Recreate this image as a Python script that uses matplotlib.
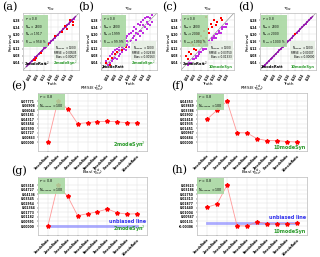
import numpy as np
import matplotlib.pyplot as plt

# ---- scatter panels: truth vs retrieval ----
a_pur_t = [0.03, 0.035, 0.04, 0.05, 0.06, 0.065, 0.07, 0.08, 0.09, 0.095, 0.10, 0.11, 0.12, 0.125, 0.13, 0.14,
           0.15, 0.155, 0.16, 0.17, 0.18, 0.185, 0.19, 0.20, 0.21, 0.215, 0.22, 0.23, 0.24, 0.245, 0.25, 0.26,
           0.27, 0.275, 0.28, 0.29]
a_pur_r = [0.031, 0.034, 0.041, 0.049, 0.061, 0.064, 0.071, 0.079, 0.091, 0.094, 0.101, 0.109, 0.121, 0.124, 0.131, 0.139,
           0.151, 0.154, 0.161, 0.169, 0.181, 0.184, 0.191, 0.199, 0.211, 0.214, 0.221, 0.229, 0.241, 0.244, 0.251, 0.259,
           0.271, 0.274, 0.281, 0.289]
a_red_t = [0.06, 0.07, 0.075, 0.10, 0.14, 0.18, 0.22, 0.24, 0.25, 0.27, 0.285, 0.285]
a_red_r = [0.055, 0.058, 0.07, 0.098, 0.145, 0.19, 0.215, 0.245, 0.232, 0.28, 0.27, 0.255]

b_pur_t = [0.03, 0.04, 0.05, 0.06, 0.07, 0.07, 0.08, 0.08, 0.09, 0.09, 0.10, 0.10, 0.11, 0.11, 0.12, 0.12, 0.13, 0.13,
           0.14, 0.14, 0.15, 0.15, 0.16, 0.16, 0.17, 0.17, 0.18, 0.18, 0.19, 0.19, 0.20, 0.20, 0.21, 0.21, 0.22, 0.22,
           0.23, 0.23, 0.24, 0.24, 0.25, 0.25, 0.26, 0.26, 0.27, 0.27, 0.28, 0.28, 0.29, 0.29, 0.06, 0.12, 0.18, 0.24,
           0.10, 0.15, 0.20, 0.22, 0.26, 0.05]
b_pur_r = [0.05, 0.03, 0.08, 0.05, 0.10, 0.06, 0.11, 0.07, 0.06, 0.12, 0.13, 0.08, 0.09, 0.14, 0.16, 0.10, 0.12, 0.17,
           0.11, 0.18, 0.14, 0.19, 0.13, 0.20, 0.16, 0.21, 0.15, 0.22, 0.19, 0.24, 0.17, 0.23, 0.20, 0.26, 0.19, 0.25,
           0.22, 0.27, 0.21, 0.28, 0.24, 0.29, 0.23, 0.27, 0.26, 0.30, 0.25, 0.29, 0.27, 0.31, 0.09, 0.13, 0.18, 0.25,
           0.11, 0.16, 0.21, 0.22, 0.30, 0.04]
b_red_t = [0.03, 0.04, 0.05, 0.06, 0.08, 0.12, 0.14, 0.09]
b_red_r = [0.04, 0.06, 0.03, 0.07, 0.09, 0.11, 0.13, 0.10]

c_pur_t = [0.04, 0.05, 0.06, 0.07, 0.08, 0.09, 0.10, 0.11, 0.12, 0.13, 0.14, 0.15, 0.16, 0.17, 0.18, 0.19, 0.20, 0.21,
           0.22, 0.23, 0.24, 0.25, 0.26, 0.27, 0.28, 0.13, 0.15, 0.17, 0.19, 0.21, 0.23, 0.11, 0.09, 0.25, 0.27, 0.20]
c_pur_r = [0.03, 0.04, 0.04, 0.06, 0.06, 0.08, 0.08, 0.09, 0.10, 0.11, 0.12, 0.12, 0.14, 0.15, 0.15, 0.17, 0.18, 0.18,
           0.20, 0.21, 0.21, 0.23, 0.24, 0.24, 0.26, 0.12, 0.14, 0.16, 0.18, 0.20, 0.22, 0.10, 0.07, 0.24, 0.26, 0.19]
c_red_t = [0.03, 0.04, 0.05, 0.06, 0.07, 0.08, 0.09, 0.10, 0.11, 0.12, 0.13, 0.14, 0.15, 0.16, 0.17, 0.18, 0.19, 0.20,
           0.21, 0.22, 0.24, 0.15, 0.10, 0.06, 0.12, 0.25]
c_red_r = [0.08, 0.06, 0.10, 0.09, 0.14, 0.12, 0.11, 0.16, 0.14, 0.19, 0.17, 0.22, 0.18, 0.23, 0.21, 0.26, 0.24, 0.28,
           0.25, 0.27, 0.29, 0.30, 0.20, 0.15, 0.15, 0.28]

d_pur_t = [0.02, 0.03, 0.04, 0.05, 0.06, 0.07, 0.08, 0.09, 0.10, 0.11, 0.12, 0.13, 0.14, 0.15, 0.16, 0.17, 0.18, 0.19,
           0.20, 0.21, 0.22, 0.23, 0.24, 0.25, 0.26, 0.27, 0.28, 0.29]
d_pur_r = [0.02, 0.03, 0.04, 0.05, 0.06, 0.07, 0.08, 0.09, 0.10, 0.11, 0.12, 0.13, 0.14, 0.15, 0.16, 0.17, 0.18, 0.19,
           0.20, 0.21, 0.22, 0.23, 0.24, 0.25, 0.26, 0.27, 0.28, 0.29]
d_red_t = [0.20]
d_red_r = [0.201]

# ---- metric panels ----
modes = ["1modeRatio", "2modeRatio", "3modeRatio", "4modeRatio", "5modeRatio",
         "6modeRatio", "7modeRatio", "8modeRatio", "9modeRatio", "10modeRatio"]
rmse_e = [0.0, 0.07771, 0.0630, 0.0350, 0.0368, 0.0390, 0.0392, 0.0385, 0.0365, 0.0362]
rmse_f = [0.0242, 0.0339, 0.04353, 0.0100, 0.0097, 0.0035, 0.0015, 0.0015, 0.0005, 0.0]
bias_g = [0.0, 0.05318, 0.0385, 0.0135, 0.0160, 0.0185, 0.0222, 0.0172, 0.0155, 0.0160]
bias_h = [0.0150, 0.0180, 0.03623, -0.0028, -0.00306, 0.0010, -0.0010, -0.0010, -0.0008, -0.0005]

W, H = 320, 257
fig = plt.figure(figsize=(W / 100, H / 100), dpi=100)


def rect(l, t, r, b):
    return [l / W, 1 - b / H, (r - l) / W, (b - t) / H]


green_box = dict(boxstyle="square,pad=0.3", fc="#a9d8a2", ec="none", alpha=0.9)
grey_box = dict(boxstyle="square,pad=0.3", fc="#e6efe4", ec="none", alpha=0.9)


def style(ax):
    ax.set_facecolor("white")
    ax.grid(True, color="#dddddd", lw=0.3)
    ax.set_axisbelow(True)
    for s in ax.spines.values():
        s.set_color("#bbbbbb")
        s.set_linewidth(0.5)
    ax.tick_params(length=1, width=0.3, pad=1, labelsize=2.2)
    for lab in ax.get_xticklabels() + ax.get_yticklabels():
        lab.set_fontweight("bold")


scatter_panels = [
    ("(a)", (23, 13, 79, 70), 2, a_pur_t, a_pur_r, a_red_t, a_red_r, "2modeRatt$^2$", "2modeSyn$^2$",
     "r$^2$ = 0.8\nN$_{pix}$ = 2000\nN$_{ret}$ = 1917\nR$_{conv}$ = 95.8 %", "N$_{sample}$ = 1000\nRMSE = 0.00505\nBias = 0.00027"),
    ("(b)", (101, 13, 157, 70), 78, b_pur_t, b_pur_r, b_red_t, b_red_r, "2modeRatt", "2modeSyn$^2$",
     "r$^2$ = 0.8\nN$_{pix}$ = 2000\nN$_{ret}$ = 1999\nR$_{conv}$ = 99.9 %", "N$_{sample}$ = 1000\nRMSE = 0.02638\nBias = 0.00163"),
    ("(c)", (181, 13, 234, 70), 162, c_pur_t, c_pur_r, c_red_t, c_red_r, "2modeRatt$^2$", "10modeSyn",
     "r$^2$ = 0.8\nN$_{pix}$ = 2000\nN$_{ret}$ = 2000\nR$_{conv}$ = 100.0 %", "N$_{sample}$ = 1000\nRMSE = 0.03750\nBias = 0.01333"),
    ("(d)", (260, 13, 316, 70), 238, d_pur_t, d_pur_r, d_red_t, d_red_r, "2modeRatt", "10modeSyn",
     "r$^2$ = 0.8\nN$_{pix}$ = 2000\nN$_{ret}$ = 2000\nR$_{conv}$ = 100.0 %", "N$_{sample}$ = 1000\nRMSE = 0.00007\nBias = 0.00000"),
]

for lab, box, lx, pt, pr, rt, rr, left_txt, right_txt, tl, br in scatter_panels:
    ax = fig.add_axes(rect(*box))
    ax.plot([0.0, 0.32], [0.0, 0.32], color="#999999", lw=0.5, zorder=1)
    ax.scatter(pt, pr, s=2.5, color="#c030e0", marker="s", lw=0, zorder=2)
    ax.scatter(rt, rr, s=2.5, color="red", marker="s", lw=0, zorder=3)
    if lab in ("(a)", "(d)"):
        ax.plot([0.02, 0.30], [0.02, 0.30], color="#8a1aa0", lw=1.0, zorder=2)
    ax.set_xlim(0.0, 0.32)
    ax.set_ylim(0.0, 0.32)
    ticks = [0.04, 0.08, 0.12, 0.16, 0.20, 0.24, 0.28]
    ax.set_xticks(ticks)
    ax.set_yticks(ticks)
    ax.set_xticklabels([f"{t:.2f}" for t in ticks], rotation=60)
    ax.set_yticklabels([f"{t:.2f}" for t in ticks])
    style(ax)
    ax.set_title(r"$\tau_{Ssc}$", fontsize=3, pad=1)
    ax.set_xlabel("Truth", fontsize=3, labelpad=0.3)
    ax.set_ylabel("Retrieval", fontsize=3, labelpad=0.3)
    ax.text(0.04, 0.96, tl, transform=ax.transAxes, fontsize=2.0, va="top", ha="left",
            bbox=green_box, zorder=5, linespacing=1.1)
    ax.text(0.96, 0.19, br, transform=ax.transAxes, fontsize=2.0, va="bottom", ha="right",
            bbox=grey_box, zorder=5, linespacing=1.1)
    ax.text(0.02, 0.02, left_txt, transform=ax.transAxes, fontsize=2.6, fontweight="bold",
            color="black", va="bottom", ha="left", zorder=6)
    ax.text(0.98, 0.02, right_txt, transform=ax.transAxes, fontsize=2.6, fontweight="bold",
            color="#2a9a2a", va="bottom", ha="right", zorder=6)
    fig.text(lx / W, 1 - 2 / H, lab, fontsize=8, family="DejaVu Serif", va="top", ha="left")

metric_panels = [
    ("(e)", (38, 93, 147, 151), 11, rmse_e, r"RMSE($\tau_{Ssc}^{ret}$)", "2modeSyn$^2$", None),
    ("(f)", (197, 93, 307, 151), 171, rmse_f, r"RMSE($\tau_{Ssc}^{ret}$)", "10modeSyn", None),
    ("(g)", (38, 177, 147, 235), 11, bias_g, r"Bias($\tau_{Ssc}^{ret}$)", "2modeSyn$^2$", 0.23),
    ("(h)", (197, 177, 307, 235), 171, bias_h, r"Bias($\tau_{Ssc}^{ret}$)", "10modeSyn", 0.31),
]

for lab, box, lx, vals, title, right_txt, ub_y in metric_panels:
    ax = fig.add_axes(rect(*box))
    x = np.arange(len(modes))
    ax.plot(x, vals, color="#ff8080", lw=0.6, alpha=0.8, zorder=2)
    ax.plot(x, vals, ls="none", marker="*", ms=3, color="red", zorder=3)
    if ub_y is not None:
        ax.plot([0, len(modes) - 1], [0, 0], color="#8888ff", lw=2, alpha=0.7, zorder=1)
        ax.text(0.995, ub_y, "unbiased line", transform=ax.transAxes,
                fontsize=3.5, fontweight="bold", color="#3333ee", ha="right", va="center")
    vmin, vmax = min(vals), max(vals)
    span = vmax - vmin
    ax.set_xlim(-1, len(modes))
    ax.set_ylim(vmin - 0.22 * span, vmax + 0.2 * span)
    yt = np.linspace(vmin, vmax, 10)
    ax.set_yticks(yt)
    ax.set_yticklabels([f"{v:.5f}" for v in yt])
    ax.set_xticks(x)
    ax.set_xticklabels(modes, rotation=45, ha="right", rotation_mode="anchor")
    style(ax)
    ax.set_title(title, fontsize=3, pad=1)
    ax.text(0.01, 0.985, "r$^2$ = 0.8\nN$_{samples}$ = 100", transform=ax.transAxes, fontsize=2.3,
            va="top", ha="left", bbox=green_box, zorder=5, linespacing=1.1)
    ax.text(0.99, 0.02, right_txt, transform=ax.transAxes, fontsize=3.5, fontweight="bold",
            color="#2a9a2a", va="bottom", ha="right", zorder=6)
    fig.text(lx / W, 1 - (box[1] - 12) / H, lab, fontsize=8, family="DejaVu Serif",
             va="top", ha="left")

fig.savefig("out.png", dpi=100, facecolor="white")
